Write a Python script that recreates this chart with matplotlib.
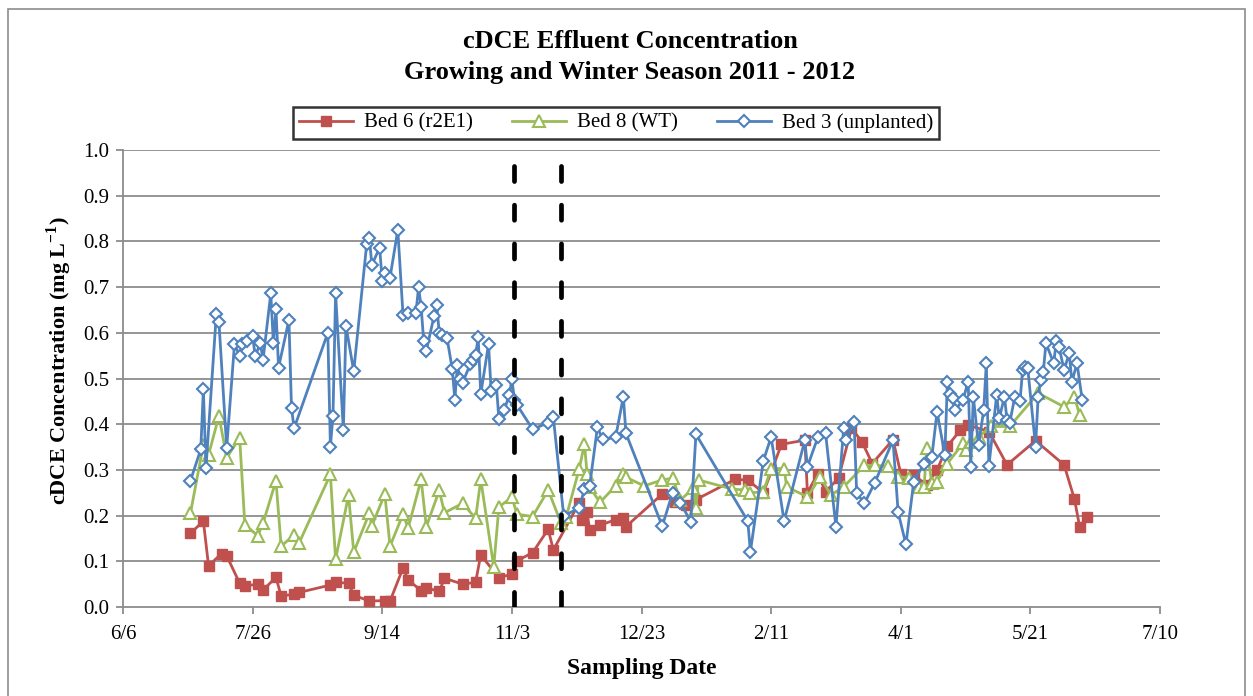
import numpy as np
import matplotlib
matplotlib.use("Agg")
import matplotlib.pyplot as plt
from matplotlib.patches import Rectangle

plt.rcParams['font.family'] = ['Liberation Serif', 'DejaVu Serif']
plt.rcParams['mathtext.fontset'] = 'custom'
plt.rcParams['mathtext.rm'] = 'Liberation Serif'
plt.rcParams['mathtext.bf'] = 'Liberation Serif:bold'

# ---- data -------------------------------------------------------------
bed6_dates = [
    '2011-07-02', '2011-07-07', '2011-07-09', '2011-07-14', '2011-07-16', '2011-07-21',
    '2011-07-23', '2011-07-28', '2011-07-30', '2011-08-04', '2011-08-06', '2011-08-11',
    '2011-08-13', '2011-08-25', '2011-08-27', '2011-09-01', '2011-09-03', '2011-09-09',
    '2011-09-15', '2011-09-17', '2011-09-22', '2011-09-24', '2011-09-29', '2011-10-01',
    '2011-10-06', '2011-10-08', '2011-10-15', '2011-10-20', '2011-10-22', '2011-10-29',
    '2011-11-03', '2011-11-05', '2011-11-11', '2011-11-17', '2011-11-19', '2011-11-29',
    '2011-11-30', '2011-12-02', '2011-12-03', '2011-12-07', '2011-12-13', '2011-12-16',
    '2011-12-17', '2011-12-31', '2012-01-05', '2012-01-09', '2012-01-13', '2012-01-28',
    '2012-02-02', '2012-02-08', '2012-02-15', '2012-02-24', '2012-02-25', '2012-02-29',
    '2012-03-03', '2012-03-08', '2012-03-13', '2012-03-17', '2012-03-21', '2012-03-29',
    '2012-04-01', '2012-04-06', '2012-04-11', '2012-04-15', '2012-04-19', '2012-04-24',
    '2012-04-27', '2012-05-05', '2012-05-12', '2012-05-23', '2012-06-03', '2012-06-07',
    '2012-06-09', '2012-06-12',
]
bed6_values = [
    0.161, 0.188, 0.090, 0.117, 0.112, 0.052,
    0.046, 0.050, 0.037, 0.065, 0.024, 0.028,
    0.032, 0.048, 0.054, 0.052, 0.026, 0.013,
    0.014, 0.013, 0.085, 0.059, 0.036, 0.042,
    0.034, 0.063, 0.050, 0.054, 0.114, 0.064,
    0.072, 0.101, 0.119, 0.170, 0.125, 0.228,
    0.190, 0.208, 0.168, 0.179, 0.191, 0.194,
    0.176, 0.247, 0.230, 0.223, 0.235, 0.279,
    0.278, 0.250, 0.356, 0.365, 0.250, 0.292,
    0.252, 0.282, 0.391, 0.362, 0.314, 0.366,
    0.292, 0.289, 0.267, 0.300, 0.352, 0.387,
    0.398, 0.384, 0.311, 0.364, 0.311, 0.236,
    0.176, 0.198,
]

bed8_dates = [
    '2011-07-02', '2011-07-07', '2011-07-09', '2011-07-13', '2011-07-16', '2011-07-21',
    '2011-07-23', '2011-07-28', '2011-07-30', '2011-08-04', '2011-08-06', '2011-08-11',
    '2011-08-13', '2011-08-25', '2011-08-27', '2011-09-01', '2011-09-03', '2011-09-09',
    '2011-09-10', '2011-09-15', '2011-09-17', '2011-09-22', '2011-09-24', '2011-09-29',
    '2011-10-01', '2011-10-06', '2011-10-08', '2011-10-15', '2011-10-20', '2011-10-22',
    '2011-10-27', '2011-10-29', '2011-11-03', '2011-11-05', '2011-11-11', '2011-11-17',
    '2011-11-22', '2011-11-24', '2011-11-29', '2011-12-01', '2011-12-02', '2011-12-03',
    '2011-12-07', '2011-12-13', '2011-12-16', '2011-12-17', '2011-12-24', '2011-12-31',
    '2012-01-04', '2012-01-07', '2012-01-12', '2012-01-13', '2012-01-14', '2012-01-27',
    '2012-02-01', '2012-02-03', '2012-02-08', '2012-02-11', '2012-02-16', '2012-02-17',
    '2012-02-25', '2012-03-01', '2012-03-05', '2012-03-10', '2012-03-18', '2012-03-22',
    '2012-03-27', '2012-03-31', '2012-04-04', '2012-04-08', '2012-04-10', '2012-04-11',
    '2012-04-13', '2012-04-15', '2012-04-19', '2012-04-25', '2012-04-26', '2012-04-28',
    '2012-05-01', '2012-05-06', '2012-05-13', '2012-05-24', '2012-06-03', '2012-06-07',
    '2012-06-09',
]
bed8_values = [
    0.205, 0.355, 0.333, 0.418, 0.327, 0.370,
    0.180, 0.156, 0.183, 0.276, 0.133, 0.158,
    0.141, 0.290, 0.104, 0.245, 0.120, 0.205,
    0.178, 0.247, 0.133, 0.203, 0.173, 0.279,
    0.176, 0.255, 0.206, 0.227, 0.194, 0.279,
    0.088, 0.219, 0.240, 0.203, 0.198, 0.256,
    0.183, 0.198, 0.303, 0.357, 0.292, 0.262,
    0.229, 0.265, 0.292, 0.284, 0.265, 0.278,
    0.282, 0.234, 0.260, 0.216, 0.278, 0.258,
    0.256, 0.250, 0.252, 0.303, 0.303, 0.263,
    0.241, 0.285, 0.245, 0.263, 0.310, 0.310,
    0.308, 0.285, 0.283, 0.263, 0.263, 0.347,
    0.271, 0.274, 0.314, 0.358, 0.344, 0.360,
    0.373, 0.395, 0.395, 0.468, 0.438, 0.460,
    0.420,
]

bed3_dates = [
    '2011-07-02', '2011-07-06', '2011-07-07', '2011-07-08', '2011-07-12', '2011-07-13',
    '2011-07-16', '2011-07-19', '2011-07-21', '2011-07-22', '2011-07-24', '2011-07-26',
    '2011-07-27', '2011-07-29', '2011-07-30', '2011-08-02', '2011-08-03', '2011-08-04',
    '2011-08-05', '2011-08-09', '2011-08-10', '2011-08-11', '2011-08-24', '2011-08-25',
    '2011-08-26', '2011-08-27', '2011-08-30', '2011-08-31', '2011-09-03', '2011-09-08',
    '2011-09-09', '2011-09-10', '2011-09-13', '2011-09-14', '2011-09-15', '2011-09-17',
    '2011-09-20', '2011-09-22', '2011-09-24', '2011-09-27', '2011-09-28', '2011-09-29',
    '2011-09-30', '2011-10-01', '2011-10-04', '2011-10-05', '2011-10-06', '2011-10-07',
    '2011-10-09', '2011-10-11', '2011-10-12', '2011-10-13', '2011-10-14', '2011-10-15',
    '2011-10-18', '2011-10-19', '2011-10-20', '2011-10-21', '2011-10-22', '2011-10-25',
    '2011-10-26', '2011-10-28', '2011-10-29', '2011-10-31', '2011-11-02', '2011-11-03',
    '2011-11-04', '2011-11-05', '2011-11-11', '2011-11-17', '2011-11-19', '2011-11-23',
    '2011-11-29', '2011-12-01', '2011-12-03', '2011-12-06', '2011-12-08', '2011-12-13',
    '2011-12-16', '2011-12-17', '2011-12-31', '2012-01-04', '2012-01-07', '2012-01-11',
    '2012-01-13', '2012-02-02', '2012-02-03', '2012-02-08', '2012-02-11', '2012-02-16',
    '2012-02-24', '2012-02-25', '2012-02-29', '2012-03-03', '2012-03-07', '2012-03-10',
    '2012-03-11', '2012-03-14', '2012-03-15', '2012-03-18', '2012-03-22', '2012-03-29',
    '2012-03-31', '2012-04-03', '2012-04-06', '2012-04-10', '2012-04-13', '2012-04-15',
    '2012-04-18', '2012-04-19', '2012-04-20', '2012-04-21', '2012-04-22', '2012-04-25',
    '2012-04-27', '2012-04-28', '2012-04-29', '2012-05-01', '2012-05-03', '2012-05-04',
    '2012-05-05', '2012-05-08', '2012-05-09', '2012-05-11', '2012-05-12', '2012-05-13',
    '2012-05-15', '2012-05-17', '2012-05-18', '2012-05-19', '2012-05-20', '2012-05-23',
    '2012-05-24', '2012-05-25', '2012-05-26', '2012-05-27', '2012-05-30', '2012-05-31',
    '2012-06-01', '2012-06-03', '2012-06-05', '2012-06-06', '2012-06-08', '2012-06-10',
]
bed3_values = [
    0.276, 0.345, 0.476, 0.304, 0.641, 0.624,
    0.349, 0.575, 0.549, 0.575, 0.581, 0.593,
    0.549, 0.578, 0.540, 0.686, 0.578, 0.651,
    0.524, 0.628, 0.435, 0.391, 0.600, 0.351,
    0.419, 0.686, 0.387, 0.615, 0.516, 0.794,
    0.808, 0.749, 0.786, 0.713, 0.730, 0.721,
    0.825, 0.640, 0.644, 0.643, 0.700, 0.657,
    0.581, 0.561, 0.637, 0.661, 0.599, 0.595,
    0.588, 0.521, 0.454, 0.529, 0.500, 0.491,
    0.532, 0.540, 0.551, 0.590, 0.466, 0.575,
    0.473, 0.486, 0.412, 0.430, 0.464, 0.498,
    0.453, 0.442, 0.389, 0.403, 0.415, 0.199,
    0.217, 0.258, 0.265, 0.393, 0.367, 0.371,
    0.460, 0.380, 0.177, 0.250, 0.228, 0.187,
    0.378, 0.188, 0.121, 0.320, 0.372, 0.188,
    0.365, 0.307, 0.371, 0.380, 0.176, 0.392,
    0.365, 0.405, 0.249, 0.227, 0.272, 0.365,
    0.207, 0.137, 0.274, 0.314, 0.329, 0.427,
    0.333, 0.493, 0.466, 0.457, 0.431, 0.453,
    0.493, 0.307, 0.460, 0.354, 0.431, 0.533,
    0.308, 0.464, 0.413, 0.460, 0.409, 0.402,
    0.460, 0.450, 0.519, 0.526, 0.522, 0.351,
    0.460, 0.497, 0.515, 0.577, 0.534, 0.581,
    0.570, 0.519, 0.555, 0.493, 0.533, 0.453,
]

# season boundaries (growing -> winter)
season_marks = ['2011-11-04', '2011-11-22']

axis_start = '2011-06-06'
tick_step_days = 50
tick_labels = ['6/6', '7/26', '9/14', '11/3', '12/23', '2/11', '4/1', '5/21', '7/10']
y_ticks = [0.0, 0.1, 0.2, 0.3, 0.4, 0.5, 0.6, 0.7, 0.8, 0.9, 1.0]

# ---- figure -----------------------------------------------------------
W, H = 1253, 696
fig = plt.figure(figsize=(W / 100, H / 100), dpi=100)
fig.patches.append(Rectangle((8 / W, -0.01), (1245 - 8) / W, 694 / H,
                             transform=fig.transFigure, fill=False,
                             edgecolor='#8c8c8c', linewidth=1.2))

ax = fig.add_axes([123 / W, (H - 607) / H, (1160 - 123) / W, (607 - 150) / H])

start = np.datetime64(axis_start)
tick_dates = start + np.arange(len(tick_labels)) * tick_step_days
ax.set_xlim(tick_dates[0], tick_dates[-1])
ax.set_ylim(0, 1.0)

for v in y_ticks[1:]:
    ax.axhline(v, color='#8c8c8c', linewidth=1.3, zorder=0)

red, green, blue = '#C0504D', '#9BBB59', '#4F81BD'

ax.plot(np.array(bed6_dates, dtype='datetime64[D]'), bed6_values, color=red,
        linewidth=2.0, marker='s', markersize=7.5, markerfacecolor=red,
        markeredgecolor=red, label='Bed 6 (r2E1)', zorder=3)
ax.plot(np.array(bed8_dates, dtype='datetime64[D]'), bed8_values, color=green,
        linewidth=2.0, marker='^', markersize=8.5, markerfacecolor='white',
        markeredgecolor=green, markeredgewidth=1.5, label='Bed 8 (WT)', zorder=4)
ax.plot(np.array(bed3_dates, dtype='datetime64[D]'), bed3_values, color=blue,
        linewidth=2.0, marker='D', markersize=6.5, markerfacecolor='white',
        markeredgecolor=blue, markeredgewidth=1.5, label='Bed 3 (unplanted)', zorder=5)

for d in season_marks:
    ax.plot([np.datetime64(d), np.datetime64(d)], [0, 0.99], color='black',
            linewidth=3.4, dashes=(3.2, 5.0), dash_capstyle='round', zorder=6)

ax.set_xticks(tick_dates)
ax.set_xticklabels(tick_labels)
ax.set_yticks(y_ticks)
ax.set_yticklabels([f'{v:.1f}' for v in y_ticks])
ax.tick_params(axis='both', labelsize=15, colors='#8c8c8c', labelcolor='black',
               direction='out', length=5, width=1.3)
ax.tick_params(axis='x', pad=8)
ax.tick_params(axis='y', pad=5)

for s in ['top', 'right']:
    ax.spines[s].set_visible(False)
for s in ['left', 'bottom']:
    ax.spines[s].set_color('#8c8c8c')
    ax.spines[s].set_linewidth(1.3)

ax.set_xlabel('Sampling Date', fontsize=17, fontweight='bold', labelpad=10)
ax.set_ylabel(r'cDCE Concentration (mg L$^{\mathbf{-1}}$)', fontsize=16,
              fontweight='bold')
ax.yaxis.set_label_coords(-0.047, 0.54)

fig.text(630 / W, 1 - 42 / H, 'cDCE Effluent Concentration', ha='center', va='center',
         fontsize=19, fontweight='bold')
fig.text(630 / W, 1 - 72 / H, 'Growing and Winter Season 2011 - 2012', ha='center',
         va='center', fontsize=19, fontweight='bold')

leg = fig.legend(loc='center', bbox_to_anchor=(616 / W, 1 - 123 / H), ncol=3,
                 fontsize=15, frameon=True, fancybox=False, edgecolor='black',
                 handlelength=2.6, handletextpad=0.5, columnspacing=1.9,
                 borderpad=0.3)
leg.get_frame().set_linewidth(1.8)

fig.savefig('out.png', dpi=100)
